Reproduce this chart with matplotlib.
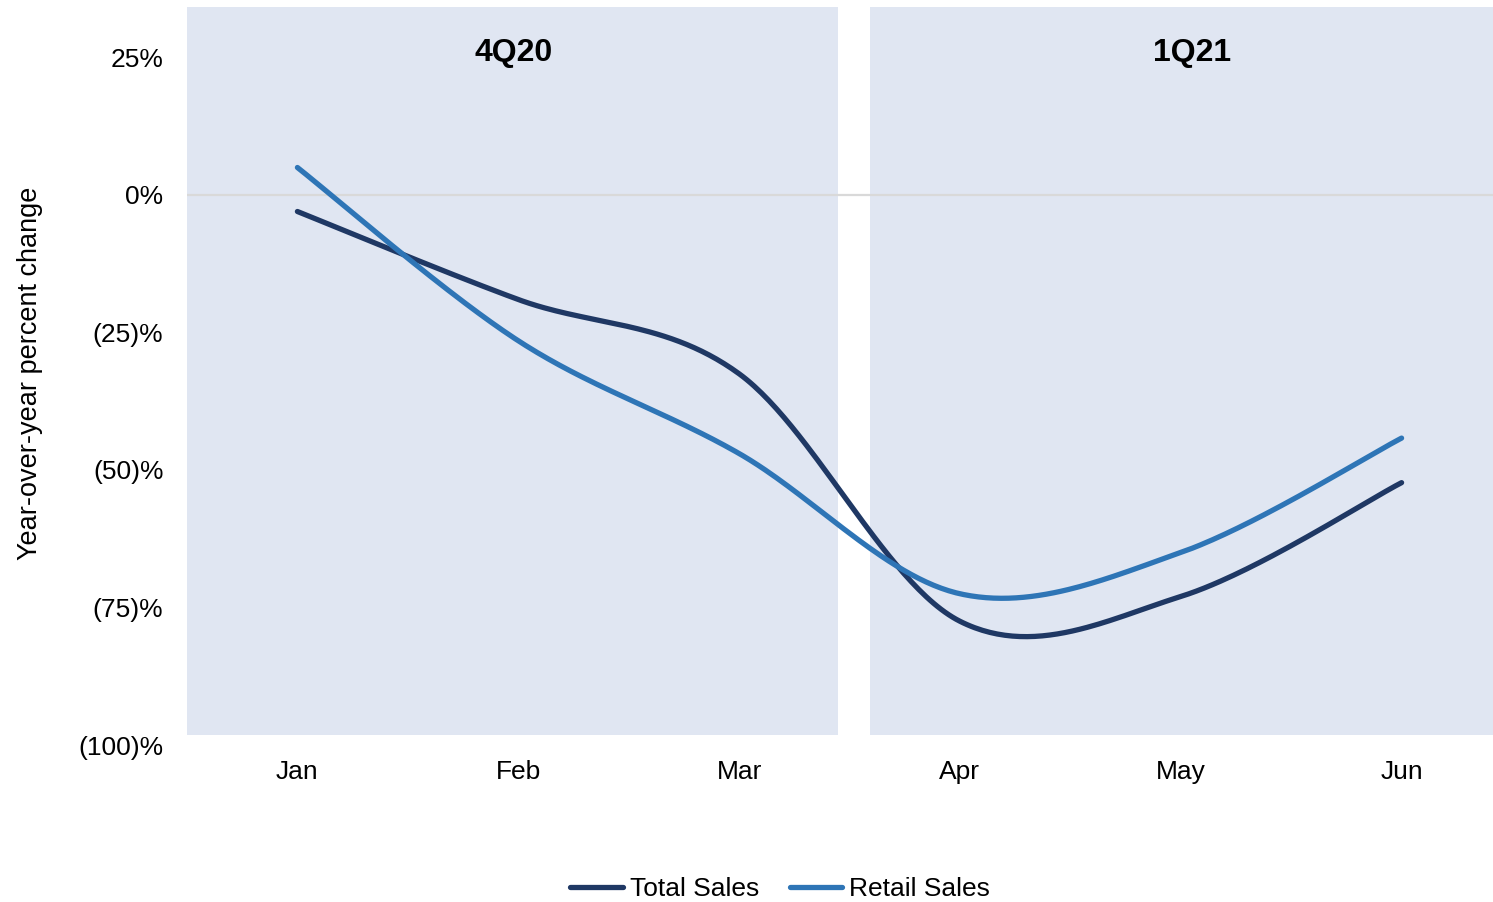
import numpy as np
import matplotlib
matplotlib.use("Agg")
import matplotlib.pyplot as plt
from matplotlib.patches import Rectangle
from matplotlib.lines import Line2D

plt.rcParams['font.family'] = ['Liberation Sans', 'DejaVu Sans']

months = ["Jan", "Feb", "Mar", "Apr", "May", "Jun"]
total_sales = [-3.0, -19.0, -32.5, -77.5, -73.0, -52.3]
retail_sales = [5.0, -26.5, -47.0, -72.5, -65.0, -44.2]
quarters = ["4Q20", "1Q21"]
yticks = [25, 0, -25, -50, -75, -100]
ytick_labels = ["25%", "0%", "(25)%", "(50)%", "(75)%", "(100)%"]

dark = "#1F3864"
light = "#2E75B6"
panel = "#E0E6F2"


def smooth(xs, ys, n=60):
    """Cubic Bezier smoothing through every point (Catmull-Rom style)."""
    P = np.column_stack([xs, ys]).astype(float)
    ext = np.vstack([P[0], P, P[-1]])
    out = []
    t = np.linspace(0, 1, n)[:, None]
    for i in range(len(P) - 1):
        p0, p1, p2, p3 = ext[i], ext[i + 1], ext[i + 2], ext[i + 3]
        c1 = p1 + (p2 - p0) / 6.0
        c2 = p2 - (p3 - p1) / 6.0
        seg = ((1 - t) ** 3) * p1 + 3 * ((1 - t) ** 2) * t * c1 + 3 * (1 - t) * t ** 2 * c2 + t ** 3 * p2
        out.append(seg if i == 0 else seg[1:])
    seg = np.vstack(out)
    return seg[:, 0], seg[:, 1]


fig = plt.figure(figsize=(14.93, 9.02), dpi=100)
ax = fig.add_axes([187 / 1493, (902 - 745) / 902, 1325 / 1493, 742.5 / 902])
ax.set_xlim(-0.5, 5.5)
ax.set_ylim(-100, 35)

# quarter panels
ax.add_patch(Rectangle((-0.5, -98.2), 2.946, 132.4, facecolor=panel, edgecolor="none", zorder=0))
ax.add_patch(Rectangle((2.591, -98.2), 2.909, 132.4, facecolor=panel, edgecolor="none", zorder=0))
ax.axhline(0, color="#D9D9D9", lw=1.6, zorder=1)

x = np.arange(len(months))
sx, sy = smooth(x, total_sales)
ax.plot(sx, sy, color=dark, lw=3.8, solid_capstyle="round", zorder=3)
sx, sy = smooth(x, retail_sales)
ax.plot(sx, sy, color=light, lw=3.8, solid_capstyle="round", zorder=3)

ax.text(0.98, 25.8, quarters[0], ha="center", va="center", fontsize=23, fontweight="bold")
ax.text(4.05, 25.8, quarters[1], ha="center", va="center", fontsize=23, fontweight="bold")

ax.set_xticks(x)
ax.set_xticklabels(months, fontsize=19)
ax.set_yticks(yticks)
ax.set_yticklabels(ytick_labels, fontsize=19)
ax.tick_params(axis="both", length=0)
ax.tick_params(axis="y", pad=17)
ax.tick_params(axis="x", pad=11)
for s in ax.spines.values():
    s.set_visible(False)

fig.text(30 / 1493, 1 - 373 / 902, "Year-over-year percent change", rotation=90,
         ha="center", va="center", fontsize=19.5)

handles = [Line2D([], [], color=dark, lw=3.8, solid_capstyle="round"),
           Line2D([], [], color=light, lw=3.8, solid_capstyle="round")]
fig.legend(handles, ["Total Sales", "Retail Sales"], loc="center",
           bbox_to_anchor=(780 / 1493, 1 - 889.5 / 902), ncol=2, frameon=False,
           fontsize=19, handlelength=2.0, handletextpad=0.26, columnspacing=1.17,
           borderpad=0, borderaxespad=0)

fig.savefig("out.png", dpi=100)
